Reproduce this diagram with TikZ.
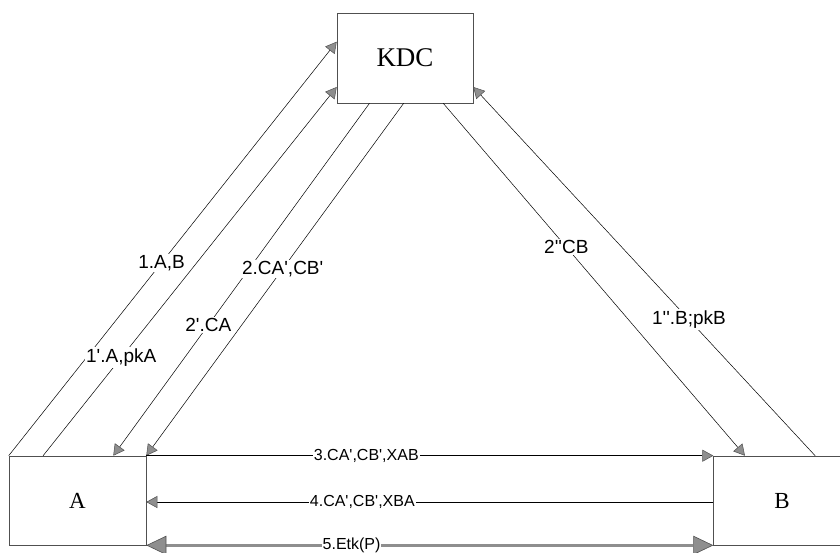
\documentclass[tikz,border=0pt]{standalone}
\usepackage{fontspec}
\setmainfont{Liberation Serif}
\newfontfamily\lblfont{Liberation Sans}
\usetikzlibrary{arrows.meta, calc, positioning}
\definecolor{tipGrey}{HTML}{8E8E8E}
\definecolor{boxGrey}{HTML}{505050}
\tikzset{
  party/.style  = {draw=boxGrey, line width=0.6pt, minimum width=137pt,
                   minimum height=89pt, inner sep=0pt,
                   font=\fontsize{23}{23}\selectfont},
  msg/.style    = {line width=0.5pt,
                   -{Triangle[length=11pt, width=12pt, color=boxGrey, fill=tipGrey]}},
  bulk/.style   = {line width=3.5pt, tipGrey,
                   {Triangle[length=20pt, width=19pt, line width=0.6pt, color=boxGrey, fill=tipGrey]}-%
                   {Triangle[length=20pt, width=19pt, line width=0.6pt, color=boxGrey, fill=tipGrey]}},
  dlbl/.style   = {font=\lblfont\fontsize{19}{19}\selectfont, fill=white,
                   inner sep=1.5pt, text=black},
  hlbl/.style   = {font=\lblfont\fontsize{16}{16}\selectfont, fill=white,
                   inner sep=1pt, text=black},
}
\begin{document}
\begin{tikzpicture}[x=1pt, y=-1pt]
  \useasboundingbox (0,0) rectangle (840,552);
  \clip (0,0) rectangle (840,552);
  % the three parties
  \node[party, minimum width=136pt, minimum height=90pt,
        font=\fontsize{27}{27}\selectfont] (KDC) at (405,58) {KDC};
  \node[party] (A) at (77.5,500.5) {A};
  \node[party, right=567pt of A] (B) {B};
  % A <-> KDC
  \draw[msg] (A.north west) -- ($(KDC.north west)!0.32!(KDC.south west)$)
    node[dlbl, pos=0.466] {1.A,B};
  \draw[msg] ($(A.north west)!0.25!(A.north east)$) -- ($(KDC.north west)!0.82!(KDC.south west)$)
    node[dlbl, pos=0.266] {1'.A,pkA};
  \draw[msg] ($(KDC.south west)!0.24!(KDC.south east)$) -- ($(A.north west)!0.76!(A.north east)$)
    node[dlbl, pos=0.629] {2'.CA};
  \draw[msg] ($(KDC.south west)!0.49!(KDC.south east)$) -- (A.north east)
    node[dlbl, pos=0.47] {2.CA',CB'};
  % B <-> KDC
  \draw[msg] ($(KDC.south west)!0.78!(KDC.south east)$) -- ($(B.north west)!0.23!(B.north east)$)
    node[dlbl, pos=0.408] {2''CB};
  \draw[msg] ($(B.north west)!0.74!(B.north east)$) -- ($(KDC.north east)!0.82!(KDC.south east)$)
    node[dlbl, pos=0.369] {1''.B;pkB};
  % A <-> B
  \draw[msg] (A.north east) -- (B.north west)
    node[hlbl, pos=0.388] {3.CA',CB',XAB};
  \draw[msg] ($(B.west)+(0,1.5)$) -- ($(A.east)+(0,1.5)$)
    node[hlbl, pos=0.619] {4.CA',CB',XBA};
  \draw[bulk] (A.south east) -- (B.south west)
    node[hlbl, pos=0.362] {5.Etk(P)};
\end{tikzpicture}
\end{document}
